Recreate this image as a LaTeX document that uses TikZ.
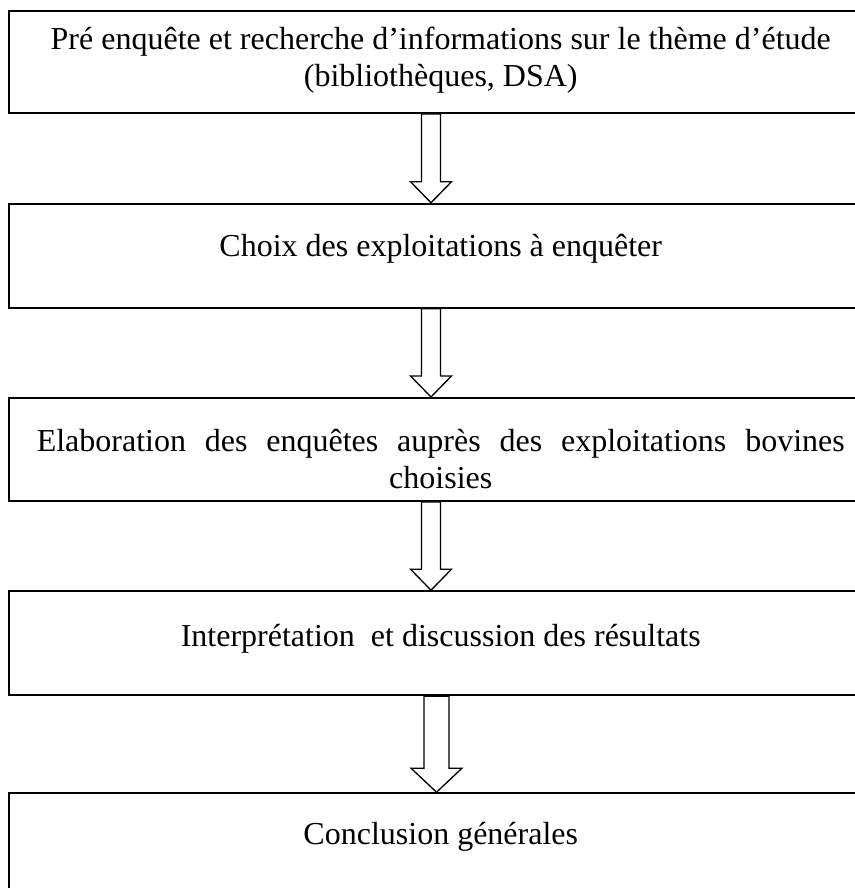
\documentclass[tikz,border=0pt]{standalone}
\usepackage{fontspec}
\setmainfont{Liberation Serif}
\usetikzlibrary{positioning}

\tikzset{
  etape/.style={draw, line width=1.5pt, minimum width=646.9pt, minimum height=77.25pt, inner sep=0pt},
  texte/.style={font=\fontsize{24}{27.6}\selectfont, align=center, inner sep=0pt, anchor=base},
  fleche/.style={draw, line width=1pt, fill=white, line join=miter}
}

% fleche creuse : de, vers, x, demi-fut, demi-tete, longueur de la tete
\newcommand{\flechecreuse}[6]{%
  \coordinate (fx) at (#3,0);
  \coordinate (pointe) at (fx |- #2.north);
  \coordinate (base) at (fx |- #1.south);
  \path (pointe) ++(-#4,-#6) coordinate (fg) ++(2*#4,0) coordinate (fd);
  \draw[fleche] (pointe) -- ++(-#5,-#6) -- (fg) -- (fg |- base) -- (fd |- base) -- (fd) -- ++(#5-#4,0) -- cycle;
}

\begin{document}
\begin{tikzpicture}[x=0.75pt, y=-0.75pt, node distance=145.3pt]

\useasboundingbox (0,0) rectangle (855,888);
\clip (0,0) rectangle (855,888);

\node[etape, minimum height=76.5pt] (box1) at (440.75,62) {};
\node[etape, minimum height=78pt] (box2) [below of=box1] {};
\node[etape] (box3) [below of=box2] {};
\node[etape, minimum height=78pt] (box4) [below of=box3] {};
\node[etape, minimum height=76.5pt, node distance=150.75pt] (box5) [below of=box4] {};

% base = derniere ligne
\node[texte] (t1) at ([yshift=-57.6pt]box1.north) {Pré enquête et recherche d’informations sur le thème d’étude\\(bibliothèques, DSA)};
\node[texte] (t2) at ([yshift=-40.5pt]box2.north) {Choix des exploitations à enquêter};
\node[texte] (t3) at ([yshift=-68.85pt]box3.north) {\makebox[606pt][s]{Elaboration des enquêtes auprès des exploitations bovines}\\choisies};
\node[texte] (t4) at ([yshift=-42pt]box4.north) {Interprétation \ et discussion des résultats};
\node[texte] (t5) at ([yshift=-39pt]box5.north) {Conclusion générales};

\flechecreuse{box1}{box2}{431}{9.5}{20.5}{21}
\flechecreuse{box2}{box3}{431}{9.5}{20.5}{21}
\flechecreuse{box3}{box4}{431}{9.5}{20.5}{21}
\flechecreuse{box4}{box5}{436.5}{12.5}{25.5}{24}

\end{tikzpicture}
\end{document}
